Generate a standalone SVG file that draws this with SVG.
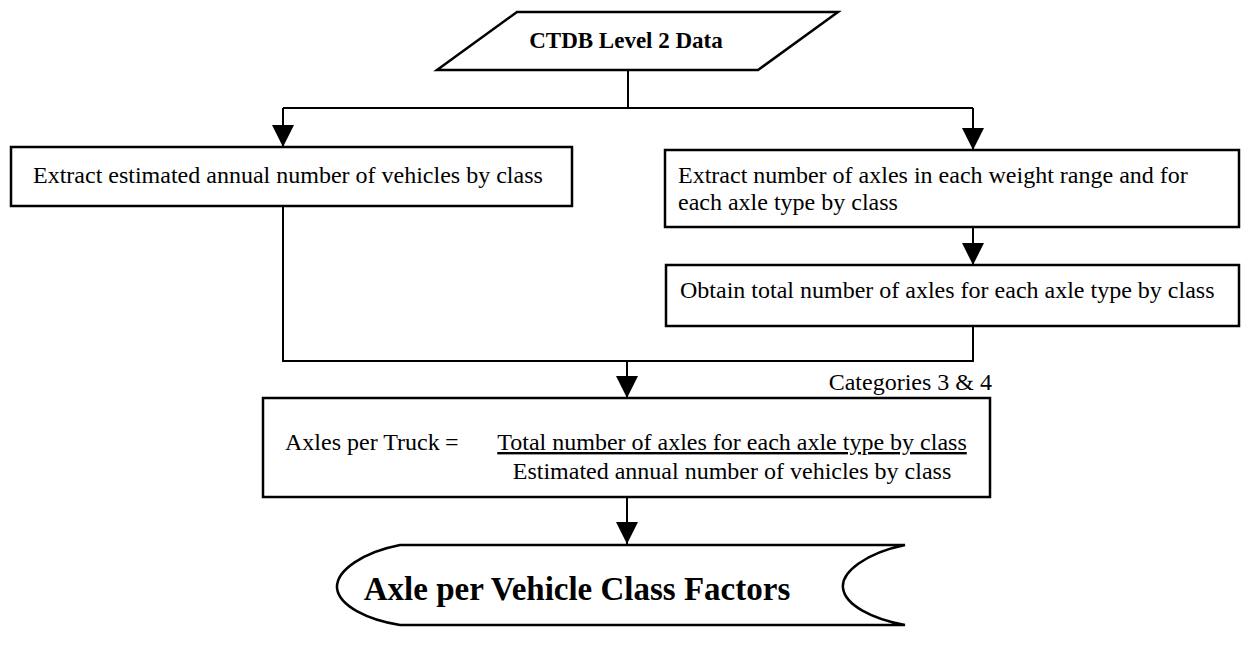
<svg xmlns="http://www.w3.org/2000/svg" width="1243" height="646" viewBox="0 0 1243 646">
<defs>
<style>
.box{fill:#fff;stroke:#000;stroke-width:2.5}
.ln{fill:none;stroke:#000;stroke-width:2}
.t{font-family:"Liberation Serif","Times New Roman",serif;font-size:24px;fill:#000}
.b{font-weight:bold}
.t23{font-size:23px}
.t33{font-size:33px}
</style>
<marker id="ah" viewBox="0 0 22 22" refX="22" refY="11" markerWidth="22" markerHeight="22" markerUnits="userSpaceOnUse" orient="auto">
<path d="M0,0 L22,11 L0,22 Z" fill="#000"/>
</marker>
</defs>
<rect width="1243" height="646" fill="#fff"/>
<g id="connectors">
<path class="ln" d="M628,70 V108"/>
<path class="ln" d="M283,108 H973"/>
<path class="ln" d="M283,108 V147" marker-end="url(#ah)"/>
<path class="ln" d="M973,108 V150" marker-end="url(#ah)"/>
<path class="ln" d="M973,227 V265" marker-end="url(#ah)"/>
<path class="ln" d="M283,206 V361 H973 V326"/>
<path class="ln" d="M627,361 V398" marker-end="url(#ah)"/>
<path class="ln" d="M627,497 V544" marker-end="url(#ah)"/>
</g>
<g id="ctdb">
<path class="box" d="M517,12 L838,12 L758,70 L437,70 Z"/>
<text class="t b t23" x="626" y="48" text-anchor="middle">CTDB Level 2 Data</text>
</g>
<g id="extract-vehicles">
<rect class="box" x="11" y="147" width="561" height="59"/>
<text class="t" x="33" y="183">Extract estimated annual number of vehicles by class</text>
</g>
<g id="extract-axles">
<rect class="box" x="665" y="150" width="574" height="77"/>
<text class="t" x="678" y="183">Extract number of axles in each weight range and for</text>
<text class="t" x="678" y="210">each axle type by class</text>
</g>
<g id="obtain-total">
<rect class="box" x="666" y="265" width="573" height="61"/>
<text class="t" x="680" y="298">Obtain total number of axles for each axle type by class</text>
</g>
<text class="t" x="992" y="390" text-anchor="end">Categories 3 &amp; 4</text>
<g id="axles-per-truck">
<rect class="box" x="263" y="398" width="727" height="99"/>
<text class="t" x="285" y="450">Axles per Truck</text>
<text class="t" x="445" y="450">=</text>
<text class="t" x="732" y="450" text-anchor="middle" text-decoration="underline">Total number of axles for each axle type by class</text>
<text class="t" x="732" y="479" text-anchor="middle">Estimated annual number of vehicles by class</text>
</g>
<g id="factors">
<path class="box" d="M400,545 L905,545 C866,553 841,572 843,588 C845,605 872,619 905,625 L400,625 C368,620 339,606 337,588 C336,570 364,552 400,545 Z"/>
<text class="t b t33" x="577" y="600" text-anchor="middle">Axle per Vehicle Class Factors</text>
</g>
</svg>
